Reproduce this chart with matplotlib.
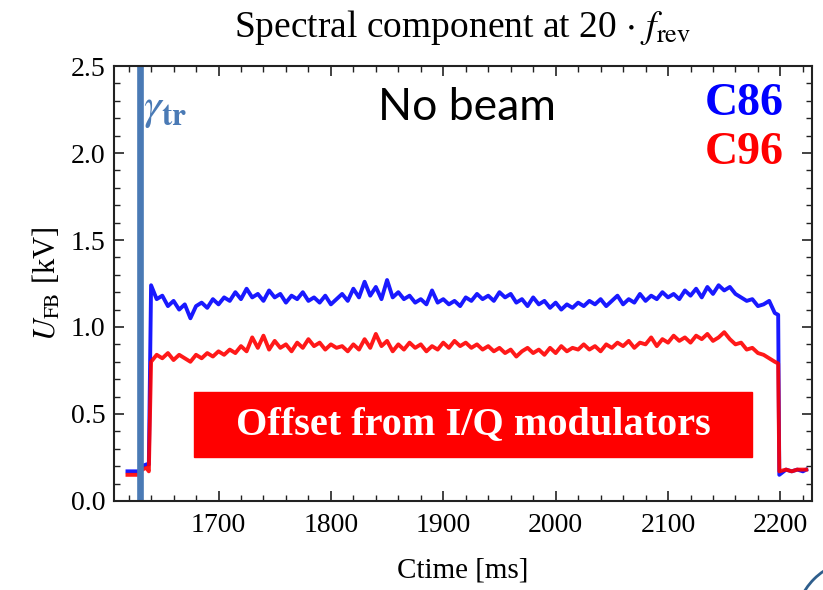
import numpy as np
import matplotlib
matplotlib.use("Agg")
from matplotlib import pyplot as plt
from matplotlib.patches import Rectangle, Arc
from matplotlib.ticker import MultipleLocator

plt.rcParams['font.family'] = 'Liberation Serif'
plt.rcParams['mathtext.fontset'] = 'stix'

# data (ms, kV)
t_pre = [1619, 1625, 1630, 1632, 1636, 1638]
c86_pre = [0.17, 0.17, 0.17, 0.20, 0.21, 0.21]
c96_pre = [0.15, 0.15, 0.15, 0.18, 0.19, 0.17]

t_main = np.arange(1640, 2200, 5)
c86_main = [1.24, 1.16, 1.18, 1.12, 1.15, 1.10, 1.13, 1.05, 1.12, 1.14,
            1.11, 1.16, 1.13, 1.17, 1.15, 1.20, 1.16, 1.22, 1.17, 1.19,
            1.15, 1.21, 1.17, 1.19, 1.14, 1.18, 1.16, 1.20, 1.15, 1.17,
            1.14, 1.18, 1.13, 1.16, 1.19, 1.15, 1.22, 1.17, 1.26, 1.18,
            1.23, 1.16, 1.27, 1.17, 1.20, 1.16, 1.18, 1.14, 1.16, 1.13,
            1.21, 1.14, 1.16, 1.13, 1.15, 1.12, 1.17, 1.15, 1.19, 1.16,
            1.18, 1.15, 1.20, 1.17, 1.19, 1.14, 1.16, 1.12, 1.17, 1.13,
            1.15, 1.11, 1.14, 1.10, 1.13, 1.11, 1.14, 1.12, 1.15, 1.13,
            1.16, 1.12, 1.15, 1.18, 1.13, 1.16, 1.14, 1.19, 1.15, 1.18,
            1.16, 1.20, 1.17, 1.19, 1.16, 1.21, 1.18, 1.22, 1.17, 1.23,
            1.19, 1.24, 1.21, 1.23, 1.19, 1.17, 1.15, 1.16, 1.12, 1.13,
            1.15, 1.08]
c96_main = [0.80, 0.84, 0.82, 0.85, 0.81, 0.84, 0.82, 0.80, 0.84, 0.82,
            0.85, 0.83, 0.86, 0.84, 0.87, 0.85, 0.89, 0.86, 0.94, 0.88,
            0.95, 0.87, 0.92, 0.88, 0.90, 0.86, 0.91, 0.88, 0.93, 0.89,
            0.91, 0.87, 0.90, 0.88, 0.89, 0.86, 0.90, 0.87, 0.93, 0.88,
            0.96, 0.89, 0.92, 0.86, 0.90, 0.87, 0.91, 0.88, 0.90, 0.86,
            0.89, 0.87, 0.91, 0.88, 0.92, 0.89, 0.91, 0.88, 0.90, 0.87,
            0.89, 0.86, 0.88, 0.85, 0.87, 0.83, 0.86, 0.88, 0.85, 0.87,
            0.84, 0.88, 0.85, 0.89, 0.86, 0.88, 0.87, 0.90, 0.87, 0.89,
            0.86, 0.90, 0.88, 0.91, 0.89, 0.92, 0.88, 0.91, 0.90, 0.94,
            0.89, 0.93, 0.91, 0.95, 0.92, 0.94, 0.91, 0.95, 0.93, 0.96,
            0.92, 0.94, 0.97, 0.93, 0.90, 0.91, 0.87, 0.88, 0.85, 0.84,
            0.82, 0.80]

t_post = [2198, 2199, 2205, 2210, 2215, 2220, 2223]
c86_post = [1.07, 0.15, 0.18, 0.17, 0.18, 0.17, 0.18]
c96_post = [0.79, 0.17, 0.18, 0.17, 0.18, 0.18, 0.18]

gamma_tr = 1630

t = np.concatenate([t_pre, t_main, t_post])
c86 = np.concatenate([c86_pre, c86_main, c86_post])
c96 = np.concatenate([c96_pre, c96_main, c96_post])

fig = plt.figure(figsize=(8.23, 5.9), dpi=100)
ax = fig.add_axes([0.1385, 0.151, 0.848, 0.737])

ax.plot(t, c86, color='#0000ff', lw=2.8, alpha=0.9)
ax.plot(t, c96, color='#ff0000', lw=2.8, alpha=0.9)
ax.axvline(gamma_tr, color='#4a7ab5', lw=4.8)

ax.set_xlim(1607, 2228)
ax.set_ylim(0, 2.5)
ax.xaxis.set_major_locator(MultipleLocator(100))
ax.xaxis.set_minor_locator(MultipleLocator(20))
ax.yaxis.set_major_locator(MultipleLocator(0.5))
ax.yaxis.set_minor_locator(MultipleLocator(0.1))
ax.yaxis.set_major_formatter(plt.FormatStrFormatter('%.1f'))
ax.tick_params(which='both', direction='in', top=True, right=True,
               labelsize=20, color='#222222')
ax.tick_params(axis='x', pad=9)
ax.tick_params(axis='y', pad=6)
ax.tick_params(which='major', length=7, width=1.2)
ax.tick_params(which='minor', length=4, width=1.0)
for s in ax.spines.values():
    s.set_linewidth(1.5)
    s.set_color('#222222')

ax.set_title(r'Spectral component at 20 $\cdot$ $f_{\rm rev}$', fontsize=27, pad=21)
ax.set_xlabel('Ctime [ms]', fontsize=21, labelpad=14)
ax.set_ylabel(r'$U_{\rm FB}$ [kV]', fontsize=22, labelpad=6)

ax.text(1633, 2.25, r'$\gamma_{\mathbf{tr}}$', color='#4a7ab5', fontsize=32,
        ha='left', va='center')
ax.text(1921, 2.26, 'No beam', fontsize=32, family='Lato', ha='center', va='center')
ax.text(2203, 2.28, 'C86', color='#0000ff', fontsize=33, fontweight='bold',
        ha='right', va='center')
ax.text(2203, 2.00, 'C96', color='#ff0000', fontsize=33, fontweight='bold',
        ha='right', va='center')

ax.add_patch(Rectangle((1678, 0.252), 497, 0.373, color='#ff0000', zorder=3))
ax.text(1926.5, 0.44, 'Offset from I/Q modulators', color='white', fontsize=29,
        fontweight='bold', ha='center', va='center', zorder=4)

# slide decoration peeking in at the bottom right corner
fig.add_artist(Arc((860 / 823, 1 - 625 / 590), 130 / 823, 130 / 590,
                   transform=fig.transFigure, color='#2e5e8c', lw=2))

fig.savefig('out.png', dpi=100)
